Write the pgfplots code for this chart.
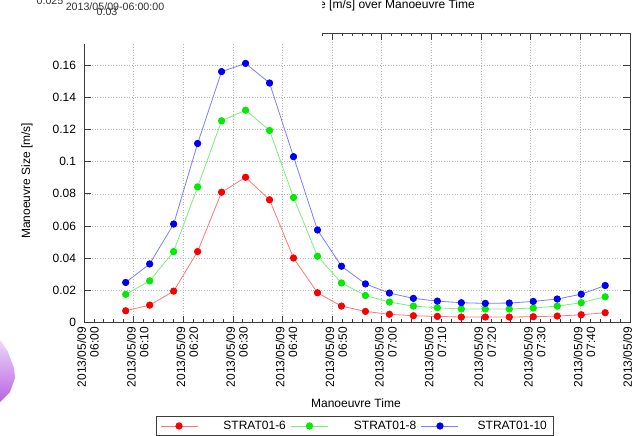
\documentclass[border=0pt]{standalone}
\usepackage{pgfplots}
\pgfplotsset{compat=1.18}
\usepackage{fontspec}
\setmainfont{Liberation Sans}
\definecolor{mred}{RGB}{250,0,0}
\definecolor{lred}{RGB}{255,120,120}
\definecolor{mgreen}{RGB}{0,235,0}
\definecolor{lgreen}{RGB}{120,240,120}
\definecolor{mblue}{RGB}{0,0,240}
\definecolor{lblue}{RGB}{125,125,255}
\definecolor{axgray}{RGB}{60,60,60}

\pgfplotstableread{
x      r       g       b
8.40   0.0073  0.0175  0.0249
13.23  0.0108  0.0259  0.0364
18.06  0.0195  0.0441  0.0612
22.89  0.0441  0.0843  0.1113
27.72  0.0810  0.1254  0.1560
32.55  0.0903  0.1320  0.1611
37.38  0.0763  0.1194  0.1489
42.21  0.0401  0.0777  0.1031
47.04  0.0185  0.0412  0.0575
51.87  0.0102  0.0246  0.0350
56.70  0.0069  0.0168  0.0240
61.53  0.0051  0.0127  0.0183
66.36  0.0042  0.0102  0.0150
71.19  0.0038  0.0092  0.0133
76.02  0.0034  0.0084  0.0123
80.85  0.0034  0.0084  0.0119
85.68  0.0034  0.0084  0.0121
90.51  0.0036  0.0090  0.0131
95.34  0.0040  0.0102  0.0146
100.17 0.0048  0.0123  0.0176
105.00 0.0061  0.0160  0.0230
}\datatable

\begin{document}
\begin{tikzpicture}
\path[use as bounding box, clip] (0,0) rectangle (475.5pt,326.25pt);
\fill[white] (0,0) rectangle (475.5pt,326.25pt);
\begin{axis}[
  at={(63pt,84.375pt)}, anchor=south west,
  scale only axis, width=409.5pt, height=217.125pt,
  xmin=0, xmax=110, ymin=0, ymax=0.18,
  xtick={0,10,...,110},
  xticklabels={2013/05/09\\06:00,2013/05/09\\06:10,2013/05/09\\06:20,2013/05/09\\06:30,2013/05/09\\06:40,2013/05/09\\06:50,2013/05/09\\07:00,2013/05/09\\07:10,2013/05/09\\07:20,2013/05/09\\07:30,2013/05/09\\07:40,2013/05/09\\07:50},
  minor x tick num=4,
  ytick={0,0.02,...,0.181},
  scaled y ticks=false,
  yticklabel style={/pgf/number format/fixed, /pgf/number format/precision=2, /pgf/number format/assume math mode=true, xshift=-2.5pt},
  xticklabel style={rotate=90, anchor=east, align=right, font=\fontsize{9}{9.6}\selectfont, yshift=-3pt},
  font=\fontsize{9}{10.8}\selectfont,
  tick align=inside,
  major tick length=5pt, minor tick length=2.6pt,
  axis line style={draw=axgray, line width=0.7pt},
  tick style={draw=axgray, line width=0.6pt},
  grid=major,
  major grid style={draw=gray!55, line width=0.5pt, dash pattern=on 0.6pt off 1.4pt},
  title={Manoeuvre Size [m/s] over Manoeuvre Time},
  title style={at={(axis description cs:0.5,1.066)}, anchor=center},
  xlabel={Manoeuvre Time},
  xlabel style={at={(axis description cs:0.498,-0.278)}, anchor=center},
  ylabel={Manoeuvre Size [m/s]},
  ylabel style={at={(axis description cs:-0.1044,0.489)}, anchor=center, rotate=0},
  legend columns=3,
  legend style={at={(axis description cs:0.496,-0.322)}, anchor=north,
    draw=axgray, line width=0.6pt, fill=white, inner xsep=3pt, inner ysep=1.5pt,
    font=\fontsize{9}{10.8}\selectfont,
    /tikz/every odd column/.append style={column sep=0pt},
    /tikz/every even column/.append style={column sep=1.5pt, text width=64pt, align=right}},
  legend image code/.code={\draw[#1, mark repeat=2, mark phase=2] plot coordinates {(0pt,0pt) (13.9pt,0pt) (27.75pt,0pt)};},
]
\addplot[color=lred, line width=0.6pt, mark=*, mark size=2.4pt, mark options={draw=mred, fill=mred}] table[x=x, y=r] {\datatable};
\addlegendentry{STRAT01-6}
\addplot[color=lgreen, line width=0.6pt, mark=*, mark size=2.4pt, mark options={draw=mgreen, fill=mgreen}] table[x=x, y=g] {\datatable};
\addlegendentry{STRAT01-8}
\addplot[color=lblue, line width=0.6pt, mark=*, mark size=2.4pt, mark options={draw=mblue, fill=mblue}] table[x=x, y=b] {\datatable};
\addlegendentry{STRAT01-10}
\end{axis}
% screenshot overlay artifacts
\fill[white] (0,293.25pt) rectangle (241.5pt,326.5pt);
\node[font=\fontsize{8}{9}\selectfont, text=black!80, inner sep=0pt] at (37.5pt,325.5pt) {0.025};
\node[font=\fontsize{8}{9}\selectfont, text=black!80, inner sep=0pt] at (86.25pt,321pt) {2013/05/09-06:00:00};
\node[font=\fontsize{8}{9}\selectfont, text=black!80, inner sep=0pt] at (80.25pt,317.25pt) {0.03};
\shade[top color={rgb,255:red,235;green,215;blue,250}, bottom color={rgb,255:red,185;green,100;blue,225}]
  (0,71.25pt) -- (6pt,62.25pt) -- (10.5pt,50.25pt) -- (11.25pt,42.75pt) -- (7.5pt,32.25pt) -- (0,24.75pt) -- cycle;
\end{tikzpicture}
\end{document}
